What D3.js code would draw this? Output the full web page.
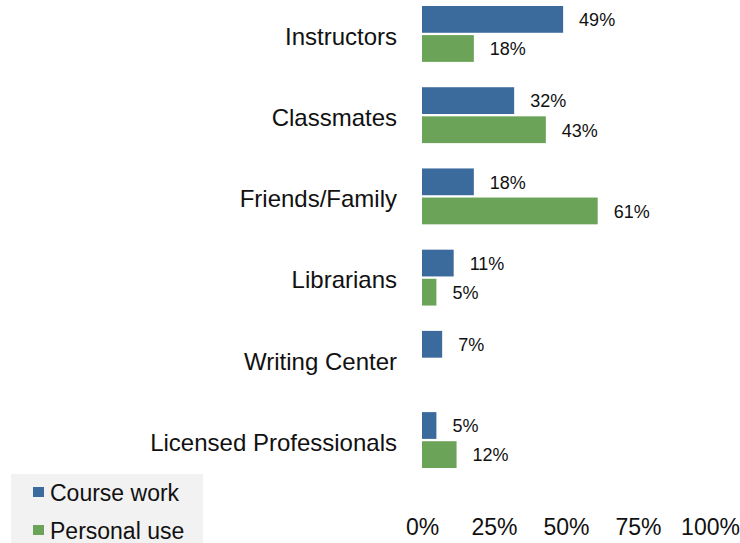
<!DOCTYPE html>
<html><head><meta charset="utf-8">
<script src="https://cdn.jsdelivr.net/npm/d3@7"></script>
<style>body{margin:0;background:#fff;} text{font-family:"Liberation Sans",Arial,Helvetica,sans-serif;fill:#111;}</style>
</head><body>
<svg id="c" width="740" height="543"></svg>
<script>
const categories = ["Instructors","Classmates","Friends/Family","Librarians","Writing Center","Licensed Professionals"];
const series = ["Course work","Personal use"];
const courseWork = [49,32,18,11,7,5];
const personalUse = [18,43,61,5,null,12];
const tickValues = [0,25,50,75,100];
const colors = ["#3b6a9d","#6ba358"];

const svg = d3.select("#c");
const x = d3.scaleLinear().domain([0,100]).range([422,710]);
const y = d3.scaleBand().domain(categories).range([6,468]).paddingInner(0.312).paddingOuter(0);
const ys = d3.scaleBand().domain(series).range([0,y.bandwidth()]).paddingInner(0.08);
const values = [courseWork, personalUse];

categories.forEach((c,i)=>{
  const g = svg.append("g").attr("transform",`translate(0,${y(c)})`);
  series.forEach((s,j)=>{
    const v = values[j][i];
    if(v==null) return;
    g.append("rect").attr("x",x(0)).attr("y",ys(s)).attr("width",x(v)-x(0)).attr("height",ys.bandwidth()).attr("fill",colors[j]);
    g.append("text").attr("x",x(v)+16).attr("y",ys(s)+ys.bandwidth()/2).attr("dy","0.38em").attr("font-size",18).text(v+"%");
  });
  svg.append("text").attr("x",397).attr("y",y(c)+y.bandwidth()/2).attr("dy","0.45em").attr("text-anchor","end").attr("font-size",24).text(c);
});

const axis = d3.axisBottom(x).tickValues(tickValues).tickFormat(d=>d+"%").tickSize(0).tickPadding(0);
const ag = svg.append("g").attr("transform","translate(0,515)").call(axis);
ag.select(".domain").remove();
ag.selectAll("text").attr("font-size",23).attr("font-family",null).attr("fill","#111").attr("dy","0.88em");

const lg = svg.append("g");
lg.append("rect").attr("x",11).attr("y",474).attr("width",192).attr("height",69).attr("fill","#f2f2f2");
series.forEach((s,j)=>{
  const yy = j===0 ? 492 : 530;
  lg.append("rect").attr("x",33).attr("y",yy-5).attr("width",11).attr("height",10).attr("fill",colors[j]);
  lg.append("text").attr("x",50).attr("y",yy).attr("dy","0.4em").attr("font-size",23).text(s);
});
</script>
</body></html>
